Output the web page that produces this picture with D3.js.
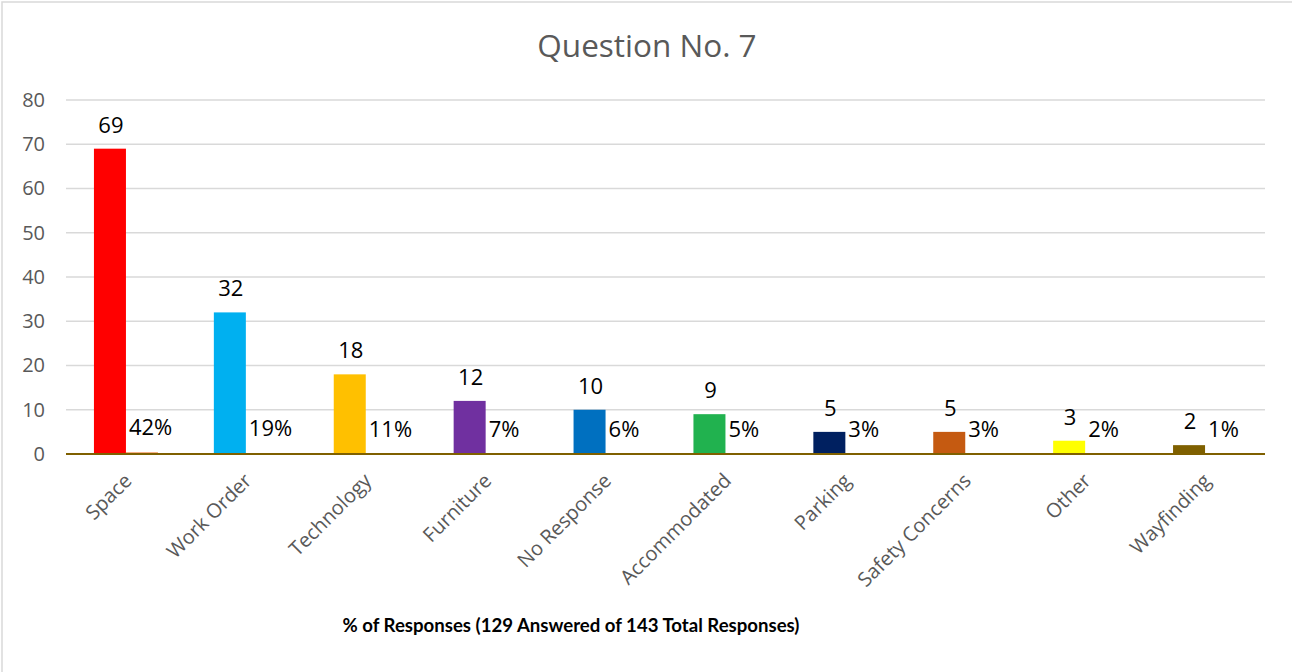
<!DOCTYPE html>
<html>
<head>
<meta charset="utf-8">
<script src="https://cdn.jsdelivr.net/npm/d3@7"></script>
<style>
  body { margin: 0; background: #fff; }
  text { font-family: "Open Sans", sans-serif; }
</style>
</head>
<body>
<div id="chart"></div>
<script>
var categories = ["Space", "Work Order", "Technology", "Furniture", "No Response",
                  "Accommodated", "Parking", "Safety Concerns", "Other", "Wayfinding"];
var counts = [69, 32, 18, 12, 10, 9, 5, 5, 3, 2];
var percents = [42, 19, 11, 7, 6, 5, 3, 3, 2, 1];
var barColors = ["#FF0000", "#00B0F0", "#FFC000", "#7030A0", "#0070C0",
                 "#21B24F", "#002060", "#C55A11", "#FFFF00", "#7F6000"];
var yTicks = [0, 10, 20, 30, 40, 50, 60, 70, 80];

var width = 1292, height = 672;
var plotLeft = 66, plotRight = 1265, plotTop = 100, plotBottom = 454;

var svg = d3.select("#chart").append("svg")
    .attr("width", width)
    .attr("height", height);

// chart frame (only top and left edges show)
svg.append("path")
    .attr("d", "M2," + height + "V2H" + width)
    .attr("fill", "none")
    .attr("stroke", "#d9d9d9")
    .attr("stroke-width", 1.5);

var x = d3.scaleBand().domain(categories).range([plotLeft, plotRight]);
var bw = 32;
var inner = d3.scaleBand().domain(["count", "pct"])
    .range([x.bandwidth() / 2 - bw, x.bandwidth() / 2 + bw]);
var y = d3.scaleLinear().domain([0, 80]).range([plotBottom, plotTop]);

// gridlines
svg.append("g").selectAll("line")
    .data(yTicks.slice(1))
    .enter().append("line")
    .attr("x1", plotLeft).attr("x2", plotRight)
    .attr("y1", function (d) { return y(d); })
    .attr("y2", function (d) { return y(d); })
    .attr("stroke", "#d9d9d9")
    .attr("stroke-width", 1.3);

// y axis labels
var yAxis = svg.append("g")
    .attr("transform", "translate(" + (plotLeft - 21) + ",0)")
    .call(d3.axisLeft(y).tickValues(yTicks).tickSize(0).tickPadding(0));
yAxis.select(".domain").remove();
yAxis.selectAll("text")
    .attr("fill", "#595959")
    .style("font-size", "20px")
    .style("font-family", "Open Sans");

// count bars
svg.append("g").selectAll("rect")
    .data(counts)
    .enter().append("rect")
    .attr("x", function (d, i) { return x(categories[i]) + inner("count"); })
    .attr("y", function (d) { return y(d); })
    .attr("width", inner.bandwidth())
    .attr("height", function (d) { return y(0) - y(d); })
    .attr("fill", function (d, i) { return barColors[i]; });

// percent bars (tiny)
svg.append("g").selectAll("rect")
    .data(percents)
    .enter().append("rect")
    .attr("x", function (d, i) { return x(categories[i]) + inner("pct"); })
    .attr("y", function (d) { return y(d / 100); })
    .attr("width", inner.bandwidth())
    .attr("height", function (d) { return y(0) - y(d / 100); })
    .attr("fill", "#F4A373");

// x axis line
svg.append("line")
    .attr("x1", plotLeft).attr("x2", plotRight)
    .attr("y1", y(0)).attr("y2", y(0))
    .attr("stroke", "#7F6000")
    .attr("stroke-width", 2);

// count labels
svg.append("g").selectAll("text")
    .data(counts)
    .enter().append("text")
    .attr("x", function (d, i) { return x(categories[i]) + inner("count") + inner.bandwidth() / 2 + 1; })
    .attr("y", function (d) { return y(d) - 16; })
    .attr("text-anchor", "middle")
    .attr("fill", "#000")
    .style("font-size", "22px")
    .text(function (d) { return d; });

// percent labels
svg.append("g").selectAll("text")
    .data(percents)
    .enter().append("text")
    .attr("x", function (d, i) { return x(categories[i]) + inner("pct") + 3; })
    .attr("y", function (d) { return y(d / 100) - 17; })
    .attr("fill", "#000")
    .style("font-size", "22px")
    .text(function (d) { return d + "%"; });

// category labels
svg.append("g").selectAll("text")
    .data(categories)
    .enter().append("text")
    .attr("transform", function (d) {
        return "translate(" + (x(d) + x.bandwidth() / 2 + 2) + "," + (plotBottom + 23) + ")rotate(-45)";
    })
    .attr("text-anchor", "end")
    .attr("dy", "0.35em")
    .attr("fill", "#595959")
    .style("font-size", "20px")
    .text(function (d) { return d; });

// title
svg.append("text")
    .attr("x", 647).attr("y", 57)
    .attr("text-anchor", "middle")
    .attr("fill", "#595959")
    .style("font-size", "31.5px")
    .text("Question No. 7");

// x axis title
svg.append("text")
    .attr("x", 571).attr("y", 632)
    .attr("text-anchor", "middle")
    .attr("fill", "#000")
    .style("font-size", "18.6px")
    .style("font-weight", "bold")
    .style("font-family", "Lato")
    .text("% of Responses (129 Answered of 143 Total Responses)");
</script>
</body>
</html>
